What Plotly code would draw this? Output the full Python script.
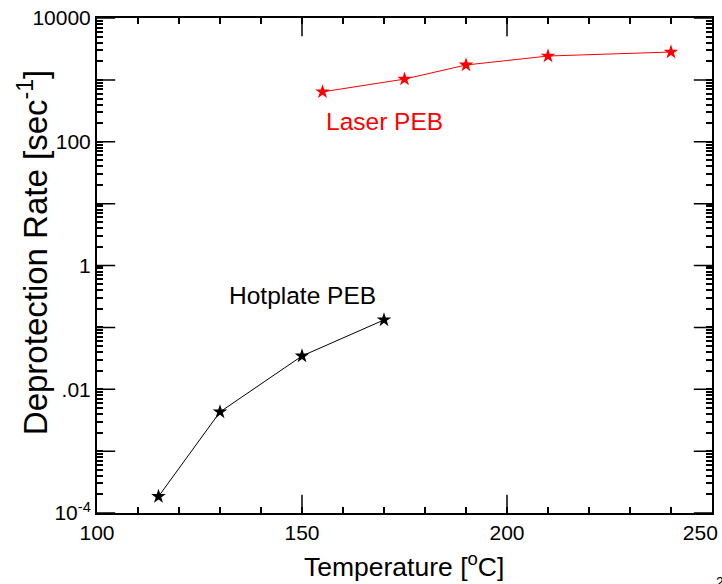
import numpy as np
import plotly.graph_objects as go

hot_T = [115, 130, 150, 170]
hot_rate = [1.85e-4, 4.3e-3, 0.0345, 0.132]
laser_T = [155, 175, 190, 210, 240]
laser_rate = [640, 1030, 1740, 2430, 2820]

y_major_vals = [1e-4, 1e-3, 1e-2, 1e-1, 1, 10, 100, 1000, 10000]
y_major_text = ["10<sup>-4</sup>", "", ".01", "", "1", "", "100", "", "10000"]
x_major_vals = [100, 150, 200, 250]
x_major_text = ["100", "150", "200", "250\u00a0\u00a0\u00a0\u00a0"]

y_minor = [m * 10.0 ** e for e in range(-4, 4) for m in range(2, 10)]
x_minor = [t for t in range(100, 251, 10) if t not in x_major_vals]

X_RANGE = [100, 250]
Y_RANGE_LOG = [-4, 4]
FONT = "Liberation Sans, Arial, sans-serif"

# all tick positions (short ticks) with labels only on the labelled majors
x_tickvals = x_major_vals + x_minor
x_ticktext = x_major_text + [""] * len(x_minor)
y_tickvals = y_major_vals + y_minor
y_ticktext = y_major_text + [""] * len(y_minor)

fig = go.Figure()
fig.add_trace(go.Scatter(x=hot_T, y=hot_rate, mode="lines+markers",
                         line=dict(color="black", width=1),
                         marker=dict(symbol="star", size=11, color="black"),
                         showlegend=False))
fig.add_trace(go.Scatter(x=laser_T, y=laser_rate, mode="lines+markers",
                         line=dict(color="#ff0000", width=1),
                         marker=dict(symbol="star", size=11, color="#ff0000"),
                         showlegend=False))

# longer major ticks: line markers centred on the frame, clipped by the plot area
long_tick = dict(size=26, color="black", line=dict(width=1.5, color="black"))
for xpos in X_RANGE:
    fig.add_trace(go.Scatter(x=[xpos] * len(y_major_vals), y=y_major_vals, mode="markers",
                             marker=dict(symbol="line-ew", **long_tick), cliponaxis=True,
                             showlegend=False, hoverinfo="skip"))
x_long = [v for v in x_major_vals if v not in X_RANGE]
for ypos in [10.0 ** Y_RANGE_LOG[0], 10.0 ** Y_RANGE_LOG[1]]:
    fig.add_trace(go.Scatter(x=x_long, y=[ypos] * len(x_long), mode="markers",
                             marker=dict(symbol="line-ns", **long_tick), cliponaxis=True,
                             showlegend=False, hoverinfo="skip"))

common = dict(ticks="inside", tickwidth=1.5, tickcolor="black", ticklen=6,
              showline=True, linecolor="black", linewidth=2, mirror="ticks",
              showgrid=False, zeroline=False, automargin=False,
              tickfont=dict(family=FONT, size=21, color="black"))

fig.update_xaxes(range=X_RANGE, tickmode="array", tickvals=x_tickvals, ticktext=x_ticktext,
                 ticklabeloverflow="allow", **common)
fig.update_yaxes(type="log", range=Y_RANGE_LOG, tickmode="array", tickvals=y_tickvals,
                 ticktext=y_ticktext, **common)

fig.add_annotation(x=0.499, y=-0.105, xref="paper", yref="paper", text="Temperature [<sup>o</sup>C]",
                   showarrow=False, xanchor="center", yanchor="middle",
                   font=dict(family=FONT, size=26.5, color="black"))
fig.add_annotation(x=-0.104, y=0.525, xref="paper", yref="paper", text="Deprotection Rate [sec<sup>-1</sup>]",
                   showarrow=False, textangle=-90, xanchor="center", yanchor="middle",
                   font=dict(family=FONT, size=33, color="black"))
fig.add_annotation(x=170, y=np.log10(215), xref="x", yref="y", text="Laser PEB", showarrow=False,
                   font=dict(family=FONT, size=24.5, color="#ff0000"))
fig.add_annotation(x=150, y=np.log10(0.333), xref="x", yref="y", text="Hotplate PEB", showarrow=False,
                   font=dict(family=FONT, size=24.5, color="black"))
fig.add_annotation(x=1.003, y=-0.119, xref="paper", yref="paper", xanchor="left", yanchor="top",
                   text="2", showarrow=False, font=dict(family=FONT, size=14, color="black"))

fig.update_layout(width=722, height=584, margin=dict(l=97, r=10, t=18, b=71),
                  plot_bgcolor="white", paper_bgcolor="white")
fig.write_html("out.html", config={"displayModeBar": False},
               post_script="document.body.style.margin='0px';document.body.style.overflow='hidden';")
